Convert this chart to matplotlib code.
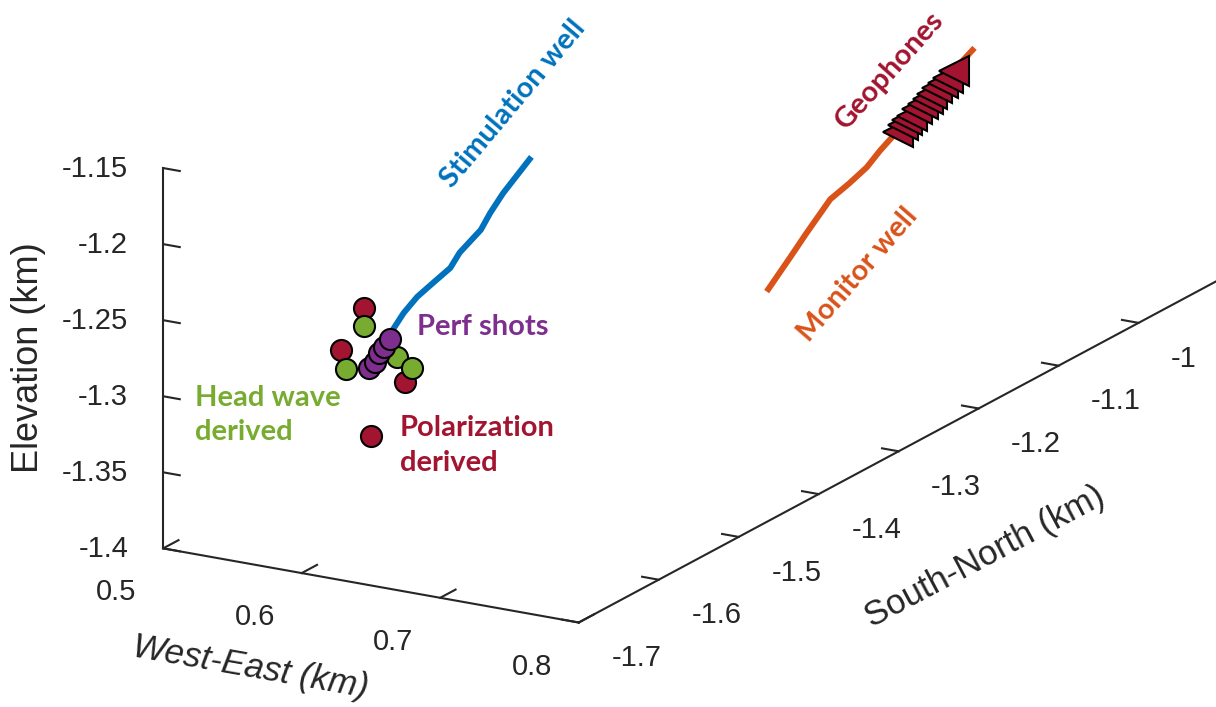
import matplotlib
matplotlib.use("Agg")
import matplotlib.pyplot as plt
from matplotlib.ticker import FuncFormatter

# Well trajectories (km)
stim_x = [0.587, 0.603, 0.609, 0.617, 0.627, 0.638, 0.643, 0.656, 0.661, 0.668, 0.685]
stim_y = [-1.600, -1.591, -1.588, -1.585, -1.583, -1.580, -1.577, -1.573, -1.570, -1.566, -1.560]
stim_z = [-1.302, -1.270, -1.259, -1.248, -1.238, -1.227, -1.217, -1.201, -1.190, -1.177, -1.152]

mon_x = [0.647, 0.646, 0.645, 0.645, 0.650, 0.654, 0.655, 0.657, 0.670]
mon_y = [-1.200, -1.168, -1.147, -1.117, -1.102, -1.087, -1.072, -1.060, -0.980]
mon_z = [-1.348, -1.334, -1.325, -1.311, -1.304, -1.297, -1.290, -1.284, -1.246]

# Geophone string in the monitor well
geo_x = [0.658, 0.659, 0.659, 0.660, 0.661, 0.662, 0.663, 0.663, 0.664, 0.665, 0.666, 0.667]
geo_y = [-1.055, -1.050, -1.045, -1.041, -1.036, -1.031, -1.026, -1.021, -1.016, -1.011, -1.006, -1.001]
geo_z = [-1.282, -1.279, -1.277, -1.275, -1.272, -1.270, -1.268, -1.266, -1.263, -1.261, -1.259, -1.256]

# Perf shot locations: surveyed, head-wave and polarization estimates
perf_x = [0.606, 0.602, 0.598, 0.595, 0.591]
perf_y = [-1.600, -1.600, -1.600, -1.600, -1.600]
perf_z = [-1.273, -1.279, -1.284, -1.290, -1.295]

head_x = [0.587, 0.574, 0.611, 0.622]
head_y = [-1.600, -1.600, -1.600, -1.600]
head_z = [-1.268, -1.298, -1.284, -1.290]

pol_x = [0.587, 0.571, 0.617, 0.592]
pol_y = [-1.600, -1.600, -1.600, -1.600]
pol_z = [-1.256, -1.286, -1.300, -1.339]

x_ticks = [0.5, 0.6, 0.7, 0.8]
y_ticks = [-1.7, -1.6, -1.5, -1.4, -1.3, -1.2, -1.1, -1.0]
z_ticks = [-1.4, -1.35, -1.3, -1.25, -1.2, -1.15]

BLUE = '#0072BD'
ORANGE = '#D95319'
RED = '#A2142F'
GREEN = '#77AC30'
PURPLE = '#7E2F8E'
AXC = '#262626'

plt.rcParams.update({
    'font.family': 'Liberation Sans',
    'axes.unicode_minus': False,
    'axes.linewidth': 1.5,
    'axes.edgecolor': AXC,
    'xtick.major.width': 1.5,
    'ytick.major.width': 1.5,
    'xtick.color': AXC,
    'ytick.color': AXC,
})

fig = plt.figure(figsize=(12.16, 7.07), dpi=100)
ax = fig.add_axes([0.0614, -0.1885, 0.9868, 1.6973], projection='3d',
                  proj_type='ortho', computed_zorder=False)
ax.view_init(elev=18, azim=-60)
ax.set_xlim(0.5, 0.8)
ax.set_ylim(-1.7, -0.9)
ax.set_zlim(-1.4, -1.15)
ax.set_box_aspect((0.3, 0.8, 0.25), zoom=1.152)

ax.plot(mon_x, mon_y, mon_z, color=ORANGE, lw=4.3, solid_capstyle='butt', zorder=1)
ax.plot(stim_x, stim_y, stim_z, color=BLUE, lw=4.3, solid_capstyle='butt', zorder=2)
ax.plot(geo_x, geo_y, geo_z, ls='none', marker='<', ms=21, mfc=RED, mec='k', mew=1.5, zorder=3)
ax.scatter(pol_x, pol_y, pol_z, s=230, c=RED, edgecolors='k', linewidths=1.5,
           depthshade=False, zorder=4)
ax.scatter(head_x, head_y, head_z, s=230, c=GREEN, edgecolors='k', linewidths=1.5,
           depthshade=False, zorder=5)
ax.scatter(perf_x, perf_y, perf_z, s=230, c=PURPLE, edgecolors='k', linewidths=1.5,
           depthshade=False, zorder=6)

ax.set_xticks(x_ticks)
ax.set_yticks(y_ticks)
ax.set_zticks(z_ticks)
fmt = FuncFormatter(lambda v, pos: f'{v:g}')
for axis in (ax.xaxis, ax.yaxis, ax.zaxis):
    axis.set_major_formatter(fmt)
    axis.set_pane_color((1, 1, 1, 0))
    axis.pane.set_edgecolor((1, 1, 1, 0))
    axis._axinfo['tick']['inward_factor'] = 0.0
    axis._axinfo['tick']['outward_factor'] = 0.5
ax.xaxis._axinfo['tick']['outward_factor'] = 0.3
ax.grid(False)

# elevation axis on the left edge, ticks pointing west
ax.zaxis.set_ticks_position('lower')
ax.zaxis._get_tickdir = lambda position: 0
ax.zaxis._axinfo['tick']['inward_factor'] = 0.5
ax.zaxis._axinfo['tick']['outward_factor'] = 0.0

ax.tick_params(axis='x', labelsize=21, pad=10.7, colors=AXC)
ax.tick_params(axis='y', labelsize=21, pad=27.3, colors=AXC)
ax.tick_params(axis='z', labelsize=21, pad=6.9, colors=AXC)
plt.setp(ax.get_xticklabels(), ha='right', va='top')
plt.setp(ax.get_yticklabels(), ha='left', va='center')
plt.setp(ax.get_zticklabels(), ha='right', va='baseline')

# axis titles
fig.text(0.0238, 0.4936, 'Elevation (km)', rotation=90, fontsize=26, color=AXC,
         ha='center', va='center')
fig.text(0.2064, 0.0552, 'West-East (km)', rotation=-10, fontsize=25, color=AXC,
         style='italic', ha='center', va='center', rotation_mode='anchor')
fig.text(0.8100, 0.2122, 'South-North (km)', rotation=28, fontsize=25, color=AXC,
         ha='center', va='center', rotation_mode='anchor')

# annotations
note = dict(family='Lato', weight='bold', fontsize=21)
fig.text(0.4219, 0.8536, 'Stimulation well', color=BLUE, rotation=50,
         ha='center', va='center', rotation_mode='anchor', **note)
fig.text(0.7319, 0.9010, 'Geophones', color=RED, rotation=48,
         ha='center', va='center', rotation_mode='anchor', **note)
fig.text(0.7056, 0.6110, 'Monitor well', color=ORANGE, rotation=49,
         ha='center', va='center', rotation_mode='anchor', **note)
fig.text(0.3429, 0.5375, 'Perf shots', color=PURPLE, ha='left', va='center', **note)
fig.text(0.1604, 0.4130, 'Head wave\nderived', color=GREEN, ha='left', va='center',
         linespacing=1.42, **note)
fig.text(0.3289, 0.3699, 'Polarization\nderived', color=RED, ha='left', va='center',
         linespacing=1.42, **note)

fig.savefig('out.png', dpi=100)
